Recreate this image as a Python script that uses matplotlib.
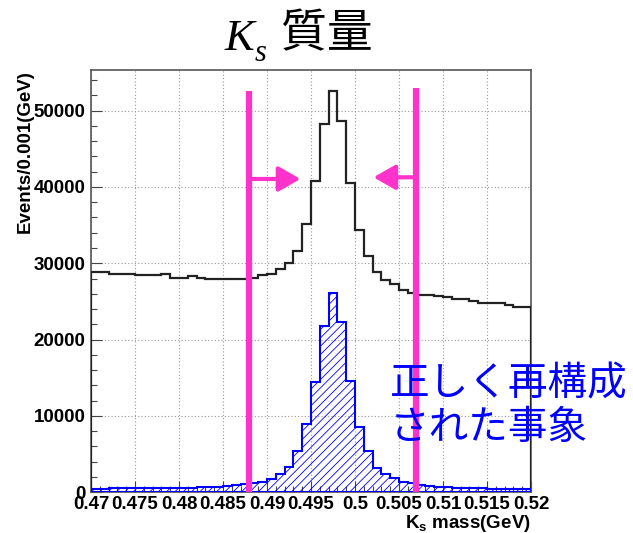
import numpy as np
import matplotlib
matplotlib.use('Agg')
import matplotlib.pyplot as plt
from matplotlib.ticker import MultipleLocator, FixedLocator, FixedFormatter

plt.rcParams['font.family'] = ['Liberation Sans', 'Noto Sans CJK JP']
plt.rcParams['font.weight'] = 'bold'
plt.rcParams['hatch.linewidth'] = 0.6

# K_s candidate mass, 50 bins of 1 MeV
mass_lo, mass_hi, n_bins = 0.47, 0.52, 50

all_events = [
    28820, 28850, 28640, 28560, 28560, 28430, 28400, 28400, 28560, 28110,
    28030, 28290, 28110, 27980, 27980, 27980, 28000, 27940, 28110, 28400,
    28600, 29250, 30000, 31600, 35200, 40800, 48300, 52600, 48600, 40500,
    34400, 30900, 28900, 27800, 27250, 26500, 26150, 25890, 25890, 25760,
    25620, 25280, 25280, 25060, 24800, 24800, 24800, 24490, 24230, 24230,
]
true_events = [
    480, 480, 490, 490, 500, 510, 520, 530, 550, 560,
    580, 600, 620, 640, 720, 810, 880, 1070, 1200, 1400,
    1700, 2390, 3340, 5360, 8940, 14400, 21780, 26150, 22350, 14610,
    8590, 5360, 3130, 2350, 1800, 1340, 1160, 940, 810, 720,
    620, 600, 580, 560, 540, 480, 470, 460, 450, 440,
]

x_ticks = [0.47, 0.475, 0.48, 0.485, 0.49, 0.495, 0.5, 0.505, 0.51, 0.515, 0.52]
x_tick_labels = ['0.47', '0.475', '0.48', '0.485', '0.49', '0.495', '0.5',
                 '0.505', '0.51', '0.515', '0.52']
y_ticks = [0, 10000, 20000, 30000, 40000, 50000]
y_top = 55330

# mass window cut
cut_low, cut_high = 0.4879, 0.5069

pink = '#ff33cc'
W, H = 633, 533

edges = np.linspace(mass_lo, mass_hi, n_bins + 1)
centers = 0.5 * (edges[:-1] + edges[1:])

fig = plt.figure(figsize=(W / 100, H / 100), dpi=100)
ax = fig.add_axes([91 / W, 1 - 492.2 / H, 440 / W, 422.2 / H])

ax.hist(centers, bins=edges, weights=all_events, histtype='step',
        color='#222222', lw=1.6, zorder=3)
ax.hist(centers, bins=edges, weights=true_events, histtype='stepfilled',
        facecolor='none', edgecolor='blue', hatch='////', lw=1.5, zorder=3)

ax.set_xlim(mass_lo, mass_hi)
ax.set_ylim(0, y_top)

ax.xaxis.set_major_locator(FixedLocator(x_ticks))
ax.xaxis.set_major_formatter(FixedFormatter(x_tick_labels))
ax.xaxis.set_minor_locator(MultipleLocator(0.001))
ax.yaxis.set_major_locator(FixedLocator(y_ticks))
ax.yaxis.set_minor_locator(MultipleLocator(2000))

ax.tick_params(which='both', direction='in', top=False, right=False,
               color='#444444', labelsize=13.5)
ax.tick_params(which='major', length=8, width=0.8)
ax.tick_params(which='minor', length=4, width=0.8)
ax.tick_params(axis='x', pad=3)
ax.tick_params(axis='y', pad=4)

ax.grid(True, which='major', color='#999999', lw=0.8, ls=(0, (1, 2)))
ax.set_axisbelow(True)
for sp in ax.spines.values():
    sp.set_color('#555555')
    sp.set_linewidth(1.2)

# cut lines and arrows
ax.plot([cut_low, cut_low], [0, 52600], color=pink, lw=4.5, zorder=5,
        solid_capstyle='butt')
ax.plot([cut_high, cut_high], [0, 53000], color=pink, lw=4.5, zorder=5,
        solid_capstyle='butt')
arrow = dict(arrowstyle='-|>,head_length=0.7,head_width=0.4',
             color=pink, lw=3, mutation_scale=19, shrinkA=0, shrinkB=0)
ax.annotate('', xy=(0.4938, 41050), xytext=(cut_low, 41050),
            arrowprops=arrow, zorder=5)
ax.annotate('', xy=(0.5021, 41270), xytext=(cut_high, 41270),
            arrowprops=arrow, zorder=5)

ax.text(-0.15, 1.0, 'Events/0.001(GeV)', transform=ax.transAxes,
        rotation=90, ha='center', va='top', fontsize=13.5)
ax.text(1.0, -0.073, r'K$_\mathregular{s}$ mass(GeV)', transform=ax.transAxes,
        ha='right', va='center', fontsize=13.5)

fig.text(390 / W, 1 - 406 / H, '正しく再構成\nされた事象', color='blue',
         fontsize=28.5, fontweight='normal', family=['Noto Sans CJK JP'],
         ha='left', va='center', linespacing=1.1, zorder=10)

# title: italic serif K with subscript s, then the Japanese word
serif_it = dict(family=['Liberation Serif'], style='italic', fontweight='normal')
fig.text(225 / W, 1 - 50 / H, 'K', fontsize=32, ha='left', va='baseline',
         **serif_it)
fig.text(255 / W, 1 - 61 / H, 's', fontsize=22, ha='left', va='baseline',
         **serif_it)
fig.text(281 / W, 1 - 34 / H, '質量', fontsize=33, fontweight='normal',
         family=['Noto Sans CJK JP'], ha='left', va='center')

fig.savefig('out.png', dpi=100)
